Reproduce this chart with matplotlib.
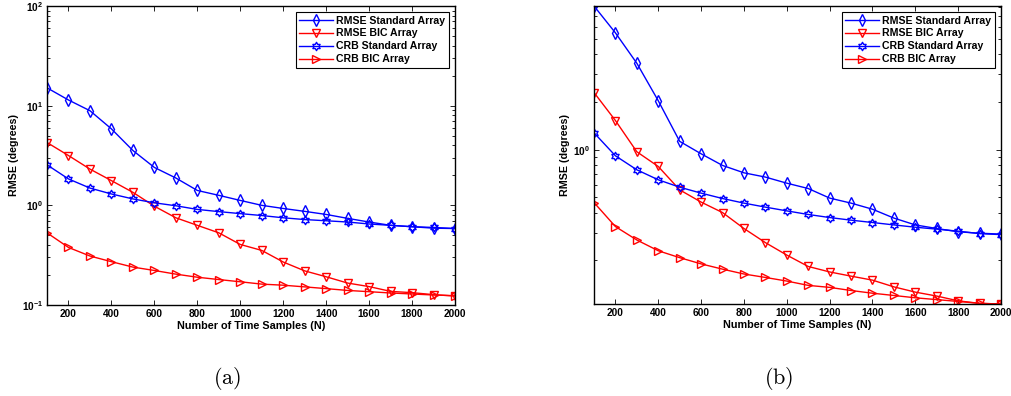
import numpy as np
import matplotlib
matplotlib.use("Agg")
import matplotlib.pyplot as plt
from matplotlib.path import Path
from matplotlib.ticker import LogLocator, NullFormatter

# ---------------- data ----------------
N = [100, 200, 300, 400, 500, 600, 700, 800, 900, 1000,
     1100, 1200, 1300, 1400, 1500, 1600, 1700, 1800, 1900, 2000]

# panel (a)
a_rmse_std = [15.1, 11.4, 8.9, 5.85, 3.55, 2.4, 1.88, 1.41, 1.26, 1.12,
              1.0, 0.93, 0.87, 0.81, 0.74, 0.68, 0.63, 0.61, 0.59, 0.585]
a_rmse_bic = [4.27, 3.16, 2.31, 1.77, 1.35, 0.98, 0.75, 0.63, 0.53, 0.405,
              0.353, 0.27, 0.22, 0.192, 0.166, 0.153, 0.137, 0.133, 0.127, 0.123]
a_crb_std = [2.55, 1.84, 1.49, 1.30, 1.16, 1.06, 0.99, 0.91, 0.865, 0.826,
             0.79, 0.75, 0.72, 0.70, 0.68, 0.65, 0.63, 0.61, 0.60, 0.585]
a_crb_bic = [0.53, 0.378, 0.31, 0.272, 0.24, 0.222, 0.204, 0.19, 0.18, 0.171,
             0.162, 0.158, 0.152, 0.146, 0.14, 0.136, 0.132, 0.129, 0.126, 0.124]

# panel (b)
b_rmse_std = [8.1, 5.48, 3.52, 2.04, 1.13, 0.943, 0.796, 0.715, 0.672, 0.615,
              0.569, 0.495, 0.46, 0.421, 0.37, 0.335, 0.318, 0.303, 0.297, 0.293]
b_rmse_bic = [2.3, 1.53, 0.971, 0.784, 0.558, 0.467, 0.401, 0.318, 0.259, 0.216,
              0.183, 0.169, 0.159, 0.15, 0.136, 0.126, 0.119, 0.111, 0.107, 0.106]
b_crb_std = [1.28, 0.916, 0.747, 0.646, 0.58, 0.532, 0.492, 0.46, 0.434, 0.411,
             0.39, 0.373, 0.359, 0.347, 0.335, 0.324, 0.315, 0.306, 0.295, 0.291]
b_crb_bic = [0.464, 0.327, 0.269, 0.23, 0.208, 0.19, 0.176, 0.164, 0.156, 0.148,
             0.139, 0.135, 0.129, 0.124, 0.12, 0.116, 0.113, 0.11, 0.107, 0.106]

labels = ["RMSE Standard Array", "RMSE BIC Array", "CRB Standard Array", "CRB BIC Array"]
xticks = [200, 400, 600, 800, 1000, 1200, 1400, 1600, 1800, 2000]
xlabel = "Number of Time Samples (N)"
ylabel = "RMSE (degrees)"
captions = ["(a)", "(b)"]

# ---------------- style ----------------
plt.rcParams['font.family'] = ['Liberation Sans', 'DejaVu Sans']
plt.rcParams['font.weight'] = 'bold'
plt.rcParams['mathtext.default'] = 'bf'

# hexagram marker
ang_o = np.deg2rad(90 + 60 * np.arange(6))
ang_i = np.deg2rad(120 + 60 * np.arange(6))
r_i = 1 / np.sqrt(3)
verts = []
for k in range(6):
    verts.append((np.cos(ang_o[k]), np.sin(ang_o[k])))
    verts.append((r_i * np.cos(ang_i[k]), r_i * np.sin(ang_i[k])))
verts.append(verts[0])
codes = [Path.MOVETO] + [Path.LINETO] * 11 + [Path.CLOSEPOLY]
hexagram = Path(verts, codes)

BLUE = (0, 0, 1)
RED = (1, 0, 0)
styles = [
    dict(color=BLUE, marker='d', ms=5.8),
    dict(color=RED, marker='v', ms=5.4),
    dict(color=BLUE, marker=hexagram, ms=6.0),
    dict(color=RED, marker='>', ms=5.4),
]

fig = plt.figure(figsize=(10.11, 3.96), dpi=100)
ax1 = fig.add_axes([47 / 1011, 1 - 305 / 396, 408 / 1011, 299 / 396])
ax2 = fig.add_axes([594 / 1011, 1 - 304 / 396, 407 / 1011, 298 / 396])

panels = [
    (ax1, [a_rmse_std, a_rmse_bic, a_crb_std, a_crb_bic], (0.1, 100)),
    (ax2, [b_rmse_std, b_rmse_bic, b_crb_std, b_crb_bic], None),
]

for ax, series, ylim in panels:
    for vals, lab, st in zip(series, labels, styles):
        ax.plot(N, vals, color=st['color'], marker=st['marker'], ms=st['ms'],
                mfc='none', mec=st['color'], mew=1.0, lw=1.0, label=lab)
    ax.set_yscale('log')
    ax.set_xlim(100, 2000)
    if ylim is not None:
        ax.set_ylim(*ylim)
    else:
        allv = np.concatenate([np.asarray(s) for s in series])
        ax.set_ylim(allv.min(), allv.max())
    ax.set_xticks(xticks)
    ax.set_xticklabels([str(t) for t in xticks])
    ax.yaxis.set_major_locator(LogLocator(base=10, numticks=10))
    ax.yaxis.set_minor_locator(LogLocator(base=10, subs=np.arange(2, 10), numticks=20))
    ax.yaxis.set_minor_formatter(NullFormatter())
    ax.tick_params(which='both', direction='in', top=True, right=True,
                   labelsize=7.3, width=0.6, pad=3)
    ax.tick_params(which='major', length=3.5)
    ax.tick_params(which='minor', length=2)
    for sp in ax.spines.values():
        sp.set_linewidth(1.0)
    for t in ax.get_xticklabels() + ax.get_yticklabels():
        t.set_fontweight('bold')
    ax.set_xlabel(xlabel, fontsize=7.8, fontweight='bold', labelpad=1)
    ax.set_ylabel(ylabel, fontsize=7.7, fontweight='bold', labelpad=2)
    leg = ax.legend(loc='upper right', frameon=True, fancybox=False,
                    edgecolor='black', framealpha=1, handlelength=3.2,
                    labelspacing=0.28, borderpad=0.3, handletextpad=0.3,
                    borderaxespad=0.6, prop=dict(weight='bold', size=7.6))
    leg.get_frame().set_linewidth(0.8)

fig.text(227 / 1011, 1 - 378 / 396, r'$\mathrm{(a)}$', ha='center', va='center',
         fontsize=16, math_fontfamily='cm')
fig.text(779 / 1011, 1 - 378 / 396, r'$\mathrm{(b)}$', ha='center', va='center',
         fontsize=16, math_fontfamily='cm')

fig.savefig('out.png', dpi=100)
